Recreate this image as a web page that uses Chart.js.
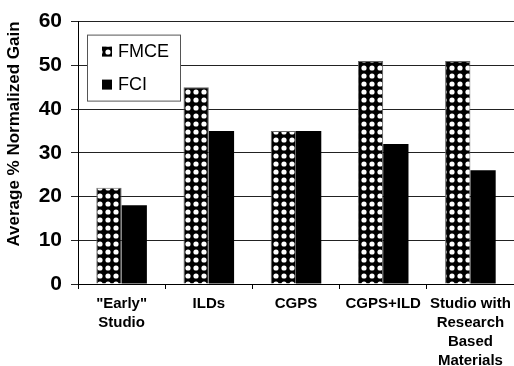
<!DOCTYPE html>
<html lang="en">
<head>
    <meta charset="utf-8">
    <title>Normalized Gain</title>
    <script src="https://cdn.jsdelivr.net/npm/chart.js"></script>
    <style>
        body { margin: 0; background: #fff; }
    </style>
</head>
<body>
    <canvas id="myChart" width="514" height="366"></canvas>
<script>
    let categories = [['"Early"', 'Studio'], 'ILDs', 'CGPS', 'CGPS+ILD', ['Studio with', 'Research', 'Based', 'Materials']]
    let fmce = [22, 45, 35, 51, 51]
    let fci = [18, 35, 35, 32, 26]
    let yTicks = [0, 10, 20, 30, 40, 50, 60]
    let yTitle = 'Average % Normalized Gain'

    let fontFam = '"Liberation Sans", Arial, sans-serif'

    // checker of white dots on black, like the old excel fill
    function dotPattern() {
        let c = document.createElement('canvas')
        c.width = 8; c.height = 8
        let g = c.getContext('2d')
        g.fillStyle = '#000'
        g.fillRect(0, 0, 8, 8)
        g.fillStyle = '#fff'
        g.beginPath()
        g.arc(4, 4, 2.6, 0, Math.PI * 2)
        g.fill()
        return document.getElementById('myChart').getContext('2d').createPattern(c, 'repeat')
    }
    let dots = dotPattern()

    // boxed legend inside the plot + the rotated axis title
    let boxLegend = {
        id: 'boxLegend',
        afterDraw(chart) {
            let ctx = chart.ctx
            let x = chart.chartArea.left + 9, y = chart.chartArea.top + 13
            ctx.save()
            ctx.fillStyle = '#fff'
            ctx.fillRect(x, y, 93, 66)
            ctx.strokeStyle = '#555'
            ctx.lineWidth = 1
            ctx.strokeRect(x + 0.5, y + 0.5, 93, 66)
            ctx.font = '18px ' + fontFam
            ctx.textBaseline = 'middle'
            chart.data.datasets.forEach(function (ds, i) {
                let yy = y + 17 + i * 33
                ctx.fillStyle = ds.backgroundColor
                ctx.fillRect(x + 15, yy - 5, 10, 10)
                ctx.fillStyle = '#000'
                ctx.fillText(ds.label, x + 31, yy)
            })

            ctx.translate(14, 134)
            ctx.rotate(-Math.PI / 2)
            ctx.textAlign = 'center'
            ctx.font = 'bold 17px ' + fontFam
            ctx.fillText(yTitle, 0, 0)
            ctx.restore()
        }
    }

    let dataobj = {
        type: 'bar',
        data: {
            labels: categories,
            datasets: [{
                label: 'FMCE',
                data: fmce,
                backgroundColor: dots,
                borderColor: '#666',
                borderWidth: 1
            }, {
                label: 'FCI',
                data: fci,
                backgroundColor: '#000',
                borderColor: '#000',
                borderWidth: 0
            }]
        },
        options: {
            responsive: false,
            animation: false,
            layout: { padding: { top: 12, right: 0, left: 0, bottom: 0 } },
            datasets: {
                bar: { categoryPercentage: 0.58, barPercentage: 1 }
            },
            plugins: {
                legend: { display: false },
                tooltip: { enabled: false }
            },
            scales: {
                y: {
                    min: 0,
                    max: 60,
                    afterBuildTicks: function (axis) {
                        axis.ticks = yTicks.map(function (v) { return { value: v } })
                    },
                    afterFit: function (axis) { axis.width = 78 },
                    ticks: {
                        color: '#000',
                        padding: 9,
                        font: { family: fontFam, size: 21, weight: 'bold' }
                    },
                    grid: { color: '#222', tickLength: 7, lineWidth: 1 },
                    border: { color: '#000', width: 1 }
                },
                x: {
                    afterFit: function (axis) {
                        axis.height = 82
                        axis.paddingRight = 0
                        axis.paddingLeft = 0
                    },
                    ticks: {
                        color: '#000',
                        padding: 5,
                        maxRotation: 0,
                        autoSkip: false,
                        font: { family: fontFam, size: 15, weight: 'bold', lineHeight: 1.27 }
                    },
                    grid: { offset: true, drawOnChartArea: false, color: '#000', tickLength: 5 },
                    border: { color: '#000', width: 1 }
                }
            }
        },
        plugins: [boxLegend]
    }
    var ctx = document.getElementById('myChart').getContext('2d')
    window.myBar = new Chart(ctx, dataobj)
</script>
</body>
</html>
